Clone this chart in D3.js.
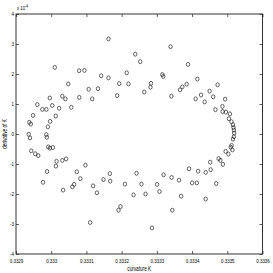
<!DOCTYPE html>
<html><head><meta charset="utf-8">
<script src="https://cdn.jsdelivr.net/npm/d3@7"></script>
<style>body{margin:0;background:#fff}svg{display:block}text{font-family:"Liberation Sans",Arial,sans-serif;fill:#000}</style>
</head><body>
<script>
const curvatureK = [0.3329361,0.3329398,0.3329862,0.3329876,0.3329378,0.3329421,0.3329484,0.3329606,0.3329748,0.3329862,
0.3329905,0.3329967,0.3330030,0.3330130,0.3330224,0.3329959,0.3330101,0.3330315,0.3330403,0.3330485,
0.3330571,0.3330793,0.3330944,0.3330798,0.3331063,0.3331163,0.3331328,0.3331419,0.3331626,0.3331626,
0.3331874,0.3331931,0.3332144,0.3332193,0.3332386,0.3332528,0.3332642,0.3332833,0.3332819,0.3333154,
0.3333183,0.3333388,0.3333411,0.3333658,0.3333724,0.3333846,0.3333886,0.3334150,0.3334102,0.3334256,
0.3334358,0.3334498,0.3334600,0.3334725,0.3334939,0.3334663,0.3334862,0.3334867,0.3334961,0.3335075,
0.3335047,0.3335118,0.3335161,0.3335175,0.3335189,0.3335195,0.3335189,0.3335161,0.3335124,0.3335098,
0.3335146,0.3334953,0.3335032,0.3334754,0.3334805,0.3334876,0.3334515,0.3334529,0.3334387,0.3334173,
0.3333914,0.3333630,0.3333419,0.3333191,0.3333006,0.3333075,0.3334002,0.3334136,0.3334685,0.3333689,
0.3334387,0.3333439,0.3332861,0.3332423,0.3332563,0.3332679,0.3332338,0.3332093,0.3331968,0.3331911,
0.3331666,0.3331675,0.3331484,0.3331191,0.3331299,0.3331106,0.3330972,0.3330727,0.3330827,0.3330599,
0.3330650,0.3330337,0.3329768,0.3329882,0.3330133,0.3330152,0.3330315,0.3330423,0.3329916,0.3329962,
0.3330047,0.3329433,0.3329546,0.3329632];
// derivative of K, in units of 1e-4
const derivativeK = [-0.01,-0.13,-0.02,-0.11,0.39,0.33,0.62,0.98,0.82,0.82,
0.24,0.42,0.95,0.60,0.86,1.20,2.22,1.26,1.17,1.67,
0.89,2.11,2.12,1.22,1.49,1.17,1.51,1.94,1.87,3.17,
1.28,1.68,2.04,1.67,2.66,2.41,1.40,1.69,1.56,1.98,
1.92,2.91,1.26,1.47,1.57,1.66,2.32,1.83,1.17,1.30,
1.07,1.43,1.24,1.64,1.16,0.81,0.92,0.75,0.73,0.67,
0.51,0.41,0.31,0.22,0.13,0.03,-0.09,-0.17,-0.38,-0.44,
-0.53,-0.58,-0.67,-0.82,-0.88,-1.01,-0.94,-1.19,-1.28,-1.24,
-1.16,-1.54,-1.45,-1.36,-1.68,-1.92,-1.63,-1.63,-1.65,-2.07,
-2.17,-2.54,-3.13,-1.31,-1.67,-2.00,-2.03,-1.67,-2.42,-2.54,
-1.32,-1.57,-1.52,-1.73,-1.96,-2.95,-1.04,-1.26,-1.49,-1.76,
-1.68,-1.87,-1.61,-1.25,-1.07,-0.91,-0.88,-0.83,-0.43,-0.47,
-0.45,-0.56,-0.66,-0.72];
const xTicks = [0.3329,0.3330,0.3331,0.3332,0.3333,0.3334,0.3335,0.3336];
const xTickLabels = ["0.3329","0.333","0.3331","0.3332","0.3333","0.3334","0.3335","0.3336"];
const yTicks = [-4,-3,-2,-1,0,1,2,3,4];
const yTickLabels = ["-4","-3","-2","-1","0","1","2","3","4"];

const W=273,H=273, L=16, T=14, R=262.5, B=254;
const sx = 0.72;
const svg = d3.select("body").append("svg").attr("width",W).attr("height",H);
const x = d3.scaleLinear().domain([0.3329,0.3336]).range([L,R]);
const y = d3.scaleLinear().domain([-4,4]).range([B,T]);

const axCol="#333";
function styleAxis(g){g.select(".domain").remove();g.selectAll("line").attr("stroke",axCol).attr("stroke-width",0.8);}
// bottom
const gb = svg.append("g").attr("transform",`translate(0,${B})`)
 .call(d3.axisBottom(x).tickValues(xTicks).tickSize(-3).tickPadding(0).tickFormat((d,i)=>xTickLabels[i]));
styleAxis(gb);
gb.selectAll("text").attr("font-size",6.2).attr("fill","#000").attr("y",9).attr("dy",0).attr("transform",`scale(${sx},1)`)
 .attr("x",0);
// top ticks
const gt = svg.append("g").attr("transform",`translate(0,${T})`)
 .call(d3.axisTop(x).tickValues(xTicks).tickSize(-3).tickFormat(""));
styleAxis(gt);
// left
const gl = svg.append("g").attr("transform",`translate(${L},0)`)
 .call(d3.axisLeft(y).tickValues(yTicks).tickSize(-3).tickFormat((d,i)=>yTickLabels[i]));
styleAxis(gl);
gl.selectAll("text").attr("font-size",6.2).attr("fill","#000").attr("x",-2/sx).attr("dy","0.3em").attr("transform",`scale(${sx},1)`);
// right ticks
const gr = svg.append("g").attr("transform",`translate(${R},0)`)
 .call(d3.axisRight(y).tickValues(yTicks).tickSize(-3).tickFormat(""));
styleAxis(gr);
// box
svg.append("rect").attr("x",L).attr("y",T).attr("width",R-L).attr("height",B-T)
 .attr("fill","none").attr("stroke",axCol).attr("stroke-width",1);

// points
svg.append("g").selectAll("ellipse").data(curvatureK).join("ellipse")
 .attr("cx",(d)=>x(d)).attr("cy",(d,i)=>y(derivativeK[i]))
 .attr("rx",1.7).attr("ry",2.0).attr("fill","none").attr("stroke","#222").attr("stroke-width",0.7);

// exponent label
const ex = svg.append("text").attr("transform",`translate(17,10) scale(${sx},1)`).attr("font-size",6);
ex.append("tspan").text("x 10");
ex.append("tspan").attr("font-size",4.5).attr("dy",-2.5).text("-4");
// xlabel
svg.append("text").attr("transform",`translate(${(L+R)/2},270.5) scale(${sx},1)`).attr("text-anchor","middle").attr("font-size",6.5).text("curvature K");
// ylabel
svg.append("text").attr("transform",`translate(7,${(T+B)/2}) rotate(-90) scale(${sx},1)`).attr("text-anchor","middle").attr("font-size",6.5).text("derivative of K");
</script>
</body></html>
